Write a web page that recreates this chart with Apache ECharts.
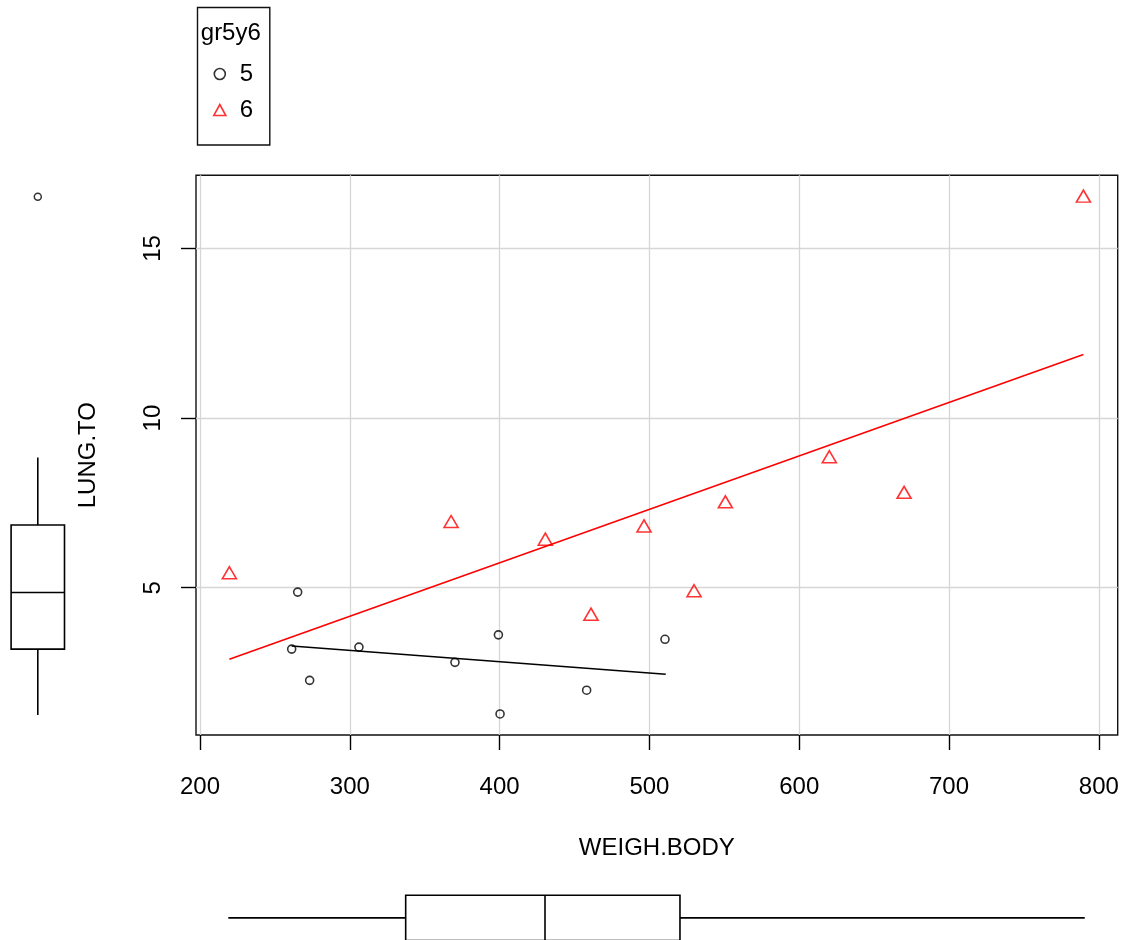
<!DOCTYPE html>
<html><head><meta charset="utf-8">
<script src="https://cdn.jsdelivr.net/npm/echarts@6/dist/echarts.min.js"></script>
<style>html,body{margin:0;padding:0;background:#fff}#c{width:1127px;height:940px}</style>
</head><body><div id="c"></div>
<script>
// ---- data ----
const groups = ['5', '6'];
const legendTitle = 'gr5y6';
const xName = 'WEIGH.BODY';
const yName = 'LUNG.TO';
const weight5 = [265.2, 261.2, 273.2, 306.1, 370.2, 399.2, 400.3, 458.1, 510.4];
const lung5   = [4.87, 3.19, 2.27, 3.25, 2.80, 3.61, 1.28, 1.98, 3.48];
const weight6 = [219.6, 367.6, 430.5, 461.0, 496.4, 529.8, 550.7, 620.1, 670.0, 789.7];
const lung6   = [5.44, 6.95, 6.43, 4.22, 6.82, 4.91, 7.53, 8.86, 7.81, 16.54];
const fitWeight5 = [261.2, 510.9];
const fitLung5   = [3.28, 2.45];
const fitWeight6 = [219.6, 789.7];
const fitLung6   = [2.89, 11.87];
const boxWeight = [218.9, 337.3, 430.3, 520.4, 790.6]; // min, Q1, median, Q3, max
const boxLung   = [1.25, 3.19, 4.86, 6.85, 8.84];
const outlierLung = [16.52];
const xTicks = [200, 300, 400, 500, 600, 700, 800];
const yTicks = [5, 10, 15];

// ---- chart ----
const FONT = 'Liberation Sans, Arial, sans-serif';
const xMin = 197.33, xMax = 812.6, yMin = 0.659, yMax = 17.154;
const zip = (a, b) => a.map((v, i) => [v, b[i]]);
const LW = 1.6;

function vBox(params, api) {
  const c = (v) => api.coord([0, v]);
  const cx = c(api.value(1))[0];
  const yMn = c(api.value(1))[1], yQ1 = c(api.value(2))[1], yMd = c(api.value(3))[1],
        yQ3 = c(api.value(4))[1], yMx = c(api.value(5))[1];
  const hw = 26.7, st = {stroke: '#000', lineWidth: LW, fill: null};
  return {type: 'group', children: [
    {type: 'line', shape: {x1: cx, y1: yMx, x2: cx, y2: yQ3}, style: st},
    {type: 'line', shape: {x1: cx, y1: yQ1, x2: cx, y2: yMn}, style: st},
    {type: 'rect', shape: {x: cx - hw, y: yQ3, width: 2 * hw, height: yQ1 - yQ3}, style: {stroke: '#000', lineWidth: LW, fill: '#fff'}},
    {type: 'line', shape: {x1: cx - hw, y1: yMd, x2: cx + hw, y2: yMd}, style: st}
  ]};
}
function hBox(params, api) {
  const c = (v) => api.coord([v, 0]);
  const cy = c(api.value(0))[1];
  const xMn = c(api.value(0))[0], xQ1 = c(api.value(1))[0], xMd = c(api.value(2))[0],
        xQ3 = c(api.value(3))[0], xMx = c(api.value(4))[0];
  const hh = 22.6, st = {stroke: '#000', lineWidth: LW, fill: null};
  return {type: 'group', children: [
    {type: 'line', shape: {x1: xMn, y1: cy, x2: xQ1, y2: cy}, style: st},
    {type: 'line', shape: {x1: xQ3, y1: cy, x2: xMx, y2: cy}, style: st},
    {type: 'rect', shape: {x: xQ1, y: cy - hh, width: xQ3 - xQ1, height: 2 * hh}, style: {stroke: '#000', lineWidth: LW, fill: '#fff'}},
    {type: 'line', shape: {x1: xMd, y1: cy - hh, x2: xMd, y2: cy + hh}, style: st}
  ]};
}

const chart = echarts.init(document.getElementById('c'), null, {renderer: 'canvas'});
chart.setOption({
  backgroundColor: '#fff',
  animation: false,
  textStyle: {fontFamily: FONT},
  grid: [
    {left: 196, top: 175.3, width: 921.7, height: 559.7, show: true, borderColor: '#111', borderWidth: 1.4, backgroundColor: 'transparent'},
    {left: 0, top: 175.3, width: 75.6, height: 559.7, show: false},
    {left: 196, top: 895.7, width: 921.7, height: 45.2, show: false}
  ],
  xAxis: [
    {gridIndex: 0, type: 'value', min: xMin, max: xMax,
     name: xName, nameLocation: 'middle', nameGap: 101,
     nameTextStyle: {fontSize: 24, color: '#000', fontFamily: FONT},
     axisLine: {show: false},
     axisTick: {show: true, inside: false, length: 15, customValues: xTicks, lineStyle: {color: '#000', width: 1.4}},
     axisLabel: {customValues: xTicks, fontSize: 24, color: '#000', margin: 40, fontFamily: FONT},
     splitLine: {show: true, lineStyle: {color: '#d6d6d6', width: 1.3}}},
    {gridIndex: 1, type: 'value', min: -1, max: 1, show: false},
    {gridIndex: 2, type: 'value', min: xMin, max: xMax, show: false}
  ],
  yAxis: [
    {gridIndex: 0, type: 'value', min: yMin, max: yMax,
     name: yName, nameLocation: 'middle', nameGap: 96, nameRotate: 90,
     nameTextStyle: {fontSize: 24, color: '#000', fontFamily: FONT},
     axisLine: {show: false},
     axisTick: {show: true, inside: false, length: 15, customValues: yTicks, lineStyle: {color: '#000', width: 1.4}},
     axisLabel: {customValues: yTicks, fontSize: 24, color: '#000', margin: 31, rotate: 90, fontFamily: FONT},
     splitLine: {show: true, lineStyle: {color: '#d6d6d6', width: 1.3}}},
    {gridIndex: 1, type: 'value', min: yMin, max: yMax, show: false},
    {gridIndex: 2, type: 'value', min: -1, max: 1, show: false}
  ],
  legend: {
    orient: 'vertical', left: 213, top: 60, padding: 0,
    itemWidth: 12, itemHeight: 11, itemGap: 8, selectedMode: false,
    textStyle: {fontSize: 24, color: '#000', fontFamily: FONT, lineHeight: 24, padding: [4, 0, 0, 9]},
    data: [
      {name: groups[0], icon: 'circle', itemStyle: {color: 'rgba(0,0,0,0)', borderColor: '#000', borderWidth: 1.6}},
      {name: groups[1], icon: 'triangle', itemStyle: {color: 'rgba(0,0,0,0)', borderColor: '#ff0000', borderWidth: 1.6}}
    ]
  },
  graphic: [
    {type: 'rect', left: 195, top: 5, shape: {width: 72.3, height: 137.5}, style: {fill: null, stroke: '#111', lineWidth: 1.4}},
    {type: 'text', x: 230.8, y: 33.3, style: {text: legendTitle, fontSize: 24, fill: '#000', font: '24px ' + FONT, textAlign: 'center', textVerticalAlign: 'middle'}}
  ],
  series: [
    {type: 'line', name: 'fit5', xAxisIndex: 0, yAxisIndex: 0, data: zip(fitWeight5, fitLung5), showSymbol: false, lineStyle: {color: '#000', width: 1.6}, z: 3},
    {type: 'line', name: 'fit6', xAxisIndex: 0, yAxisIndex: 0, data: zip(fitWeight6, fitLung6), showSymbol: false, lineStyle: {color: '#ff0000', width: 1.6}, z: 3},
    {type: 'scatter', name: groups[0], xAxisIndex: 0, yAxisIndex: 0, data: zip(weight5, lung5), symbol: 'circle', symbolSize: 8,
     itemStyle: {color: 'rgba(0,0,0,0)', borderColor: '#000', borderWidth: 1.6}, z: 4},
    {type: 'scatter', name: groups[1], xAxisIndex: 0, yAxisIndex: 0, data: zip(weight6, lung6), symbol: 'triangle', symbolSize: [14, 12],
     itemStyle: {color: 'rgba(0,0,0,0)', borderColor: '#ff0000', borderWidth: 1.6}, z: 4},
    {type: 'custom', name: 'boxLung', xAxisIndex: 1, yAxisIndex: 1, renderItem: vBox,
     encode: {x: 0, y: [1, 2, 3, 4, 5]}, data: [[0].concat(boxLung)]},
    {type: 'scatter', name: 'outlier', xAxisIndex: 1, yAxisIndex: 1, data: outlierLung.map(v => [0, v]), symbol: 'circle', symbolSize: 7,
     itemStyle: {color: 'rgba(0,0,0,0)', borderColor: '#000', borderWidth: 1.5}},
    {type: 'custom', name: 'boxWeight', xAxisIndex: 2, yAxisIndex: 2, renderItem: hBox,
     encode: {x: [0, 1, 2, 3, 4], y: 5}, data: [boxWeight.concat([0])]}
  ]
});
</script></body></html>
